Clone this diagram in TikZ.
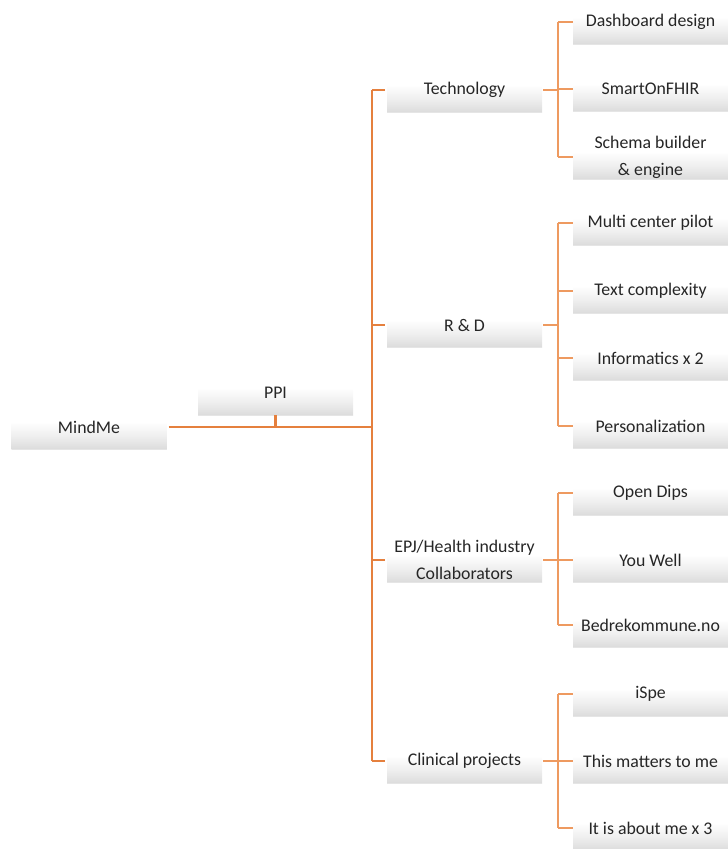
\documentclass[tikz,border=0pt]{standalone}
\usepackage{fontspec}
\setmainfont{Carlito}
\definecolor{linkorange}{HTML}{E5803E}
\definecolor{linklight}{HTML}{EE9A60}
\definecolor{shelfbot}{HTML}{DCDCDC}
\definecolor{shelfmid}{HTML}{EFEFEF}
\definecolor{inktext}{HTML}{262626}
% soft shelf look: white on top, fading to light grey at the bottom
\pgfdeclareverticalshading{shelf}{100bp}{color(0bp)=(shelfbot); color(25bp)=(shelfbot); color(40bp)=(shelfmid); color(56bp)=(white); color(100bp)=(white)}
\tikzset{
  shelfbox/.style={rectangle, shading=shelf, minimum width=155pt, minimum height=44pt,
    inner sep=0pt, align=center, text=inktext,
    font=\fontsize{17.8}{27}\selectfont,
    path picture={\draw[black!10, line width=1pt]
      (path picture bounding box.south west) -- (path picture bounding box.south east);}},
  mainlink/.style={draw=linkorange, line width=2.6pt},
  sublink/.style={draw=linklight, line width=2pt},
}
\begin{document}
\begin{tikzpicture}[x=1pt, y=-1pt]
\useasboundingbox (0,0) rectangle (728,849);

% root and its label
\node[shelfbox] (mind) at (89,427) {MindMe};
\node[shelfbox] (ppi)  at (275.5,393) {PPI};

% second level
\node[shelfbox] (tech) at (464.5,90)  {Technology};
\node[shelfbox] (rd)   at (464.5,325) {R \& D};
\node[shelfbox] (epj)  at (464.5,560) {EPJ/Health industry\\Collaborators};
\node[shelfbox] (clin) at (464.5,761) {Clinical projects};

% third level
\node[shelfbox] (dash)  at (650.5,22)  {Dashboard design};
\node[shelfbox] (fhir)  at (650.5,89)  {SmartOnFHIR};
\node[shelfbox] (schem) at (650.5,157) {Schema builder\\\& engine};
\node[shelfbox] (multi) at (650.5,223) {Multi center pilot};
\node[shelfbox] (textc) at (650.5,291) {Text complexity};
\node[shelfbox] (infor) at (650.5,358) {Informatics x 2};
\node[shelfbox] (perso) at (650.5,426) {Personalization};
\node[shelfbox] (dips)  at (650.5,493) {Open Dips};
\node[shelfbox] (well)  at (650.5,560) {You Well};
\node[shelfbox] (bedre) at (650.5,625) {Bedrekommune.no};
\node[shelfbox] (ispe)  at (650.5,694) {iSpe};
\node[shelfbox] (matt)  at (650.5,761) {This matters to me};
\node[shelfbox] (about) at (650.5,828) {It is about me x 3};

% vertical rails
\coordinate (trunk) at (372,0);
\coordinate (rail)  at (558,0);

% root to trunk, with the label tick
\draw[mainlink] ([xshift=2pt]mind.east) -- (mind.east -| trunk);
\draw[mainlink] (ppi.south) -- (ppi.south |- mind.east);

% trunk and its branches
\draw[mainlink] (tech.west -| trunk) -- (clin.west -| trunk);
\foreach \n in {tech,rd,epj,clin}
  \draw[mainlink] (\n.west -| trunk) -- ([xshift=-2pt]\n.west);

% second level to third level
\foreach \p/\a/\b in {tech/dash/schem, rd/multi/perso, epj/dips/bedre, clin/ispe/about} {
  \draw[sublink] ([xshift=1pt]\p.east) -- (\p.east -| rail);
  \draw[sublink] (\a.west -| rail) -- (\b.west -| rail);
}
\foreach \c in {dash,fhir,schem,multi,textc,infor,perso,dips,well,bedre,ispe,matt,about}
  \draw[sublink] (\c.west -| rail) -- (\c.west);
\end{tikzpicture}
\end{document}
